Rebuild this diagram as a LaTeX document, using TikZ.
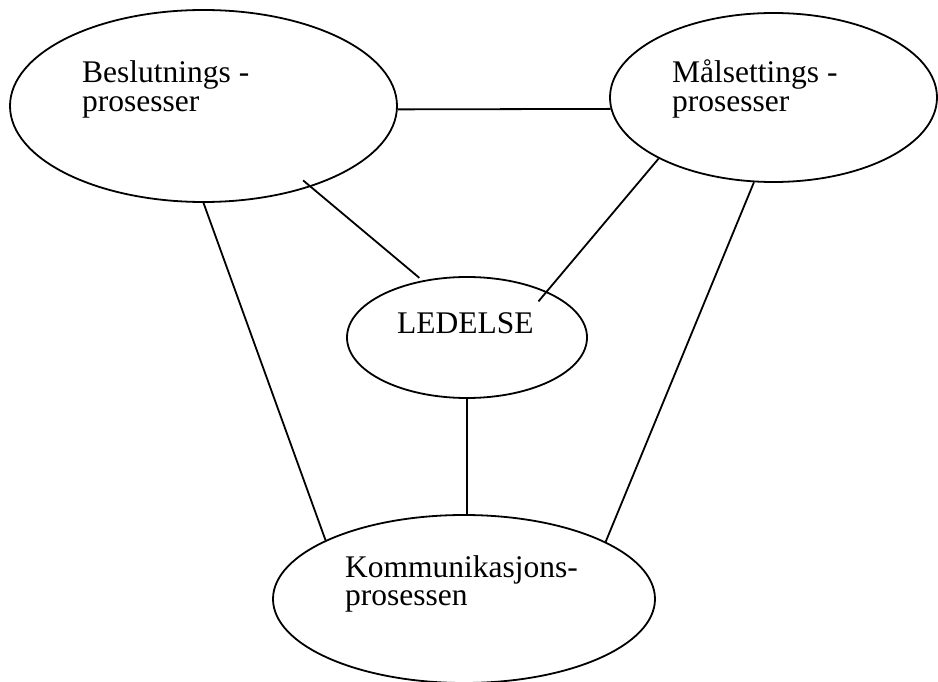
\documentclass[tikz,border=0pt]{standalone}
\usepackage{fontspec}
\setmainfont{Liberation Serif}
\usetikzlibrary{shapes.geometric}

\tikzset{
  proc/.style={ellipse, draw, line width=1.8pt, inner sep=0pt},
  link/.style={line width=1.8pt},
  lbl/.style={inner sep=0pt, anchor=base west, font=\fontsize{31.5}{28.5}\selectfont}
}
% two-line label, anchored at the baseline of its first line
\newcommand{\twolines}[2]{\begin{tabular}[t]{@{}l@{}}#1\\#2\end{tabular}}

\begin{document}
\begin{tikzpicture}[x=1pt, y=-1pt]
  \useasboundingbox (0,0) rectangle (938,682);

  % process ellipses
  \node[proc, minimum width=387pt, minimum height=192pt] (bes) at (203.5,106) {};
  \node[proc, minimum width=327pt, minimum height=169pt] (mal) at (773.5,97.5) {};
  \node[proc, minimum width=240pt, minimum height=121pt] (led) at (467,337.5) {};
  \node[proc, minimum width=382pt, minimum height=168pt] (kom) at (464,599) {};

  % labels
  \node[lbl] (besT) at (82,83) {\twolines{Beslutnings -}{prosesser}};
  \node[lbl] (malT) at (672,83) {\twolines{Målsettings -}{prosesser}};
  \node[lbl] (ledT) at (397,333) {LEDELSE};
  \node[lbl] (komT) at (345,577) {\twolines{Kommunikasjons-}{prosessen}};

  % connections
  \draw[link] (bes.-1) -- (mal.184);
  \draw[link, shorten <=-10pt, shorten >=4pt] (bes.-37) -- (led.128);
  \draw[link, shorten >=-13pt] (mal.208) -- (led.30);
  \draw[link] (bes.-90) -- (kom.157);
  \draw[link] (mal.-103) -- (kom.22);
  \draw[link] (led.south) -- (led.south |- kom.north);
\end{tikzpicture}
\end{document}
